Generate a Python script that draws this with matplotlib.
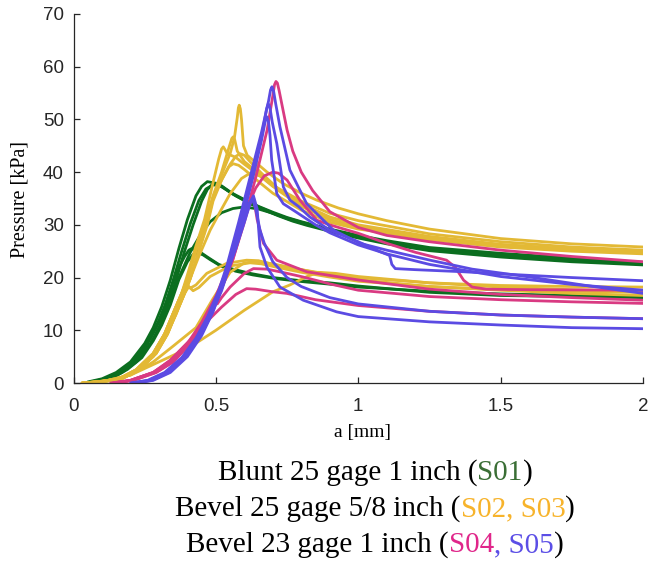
import matplotlib
matplotlib.use("Agg")
import matplotlib.pyplot as plt

W, H = 649, 561
DPI = 100

# ---------------- data ----------------
# S01 (blunt 25 gage 1 inch) - green
g1_x = [0.05, 0.10, 0.15, 0.20, 0.25, 0.28, 0.31, 0.34, 0.37, 0.40, 0.43, 0.45, 0.47, 0.50, 0.55, 0.60, 0.65, 0.70, 0.75, 0.80, 0.90, 1.00, 1.10, 1.25, 1.50, 1.75, 2.00]
g1_y = [0.2, 0.8, 2.0, 4.0, 7.5, 10.5, 14.5, 19.5, 25.5, 31.0, 35.5, 37.3, 38.2, 37.9, 36.2, 34.8, 33.5, 32.4, 31.4, 30.6, 29.2, 28.0, 27.0, 25.7, 24.6, 23.7, 22.9]
g2_x = [0.06, 0.11, 0.16, 0.21, 0.26, 0.29, 0.32, 0.35, 0.38, 0.41, 0.44, 0.465, 0.49, 0.52, 0.56, 0.61, 0.66, 0.71, 0.76, 0.81, 0.91, 1.00, 1.10, 1.25, 1.50, 1.75, 2.00]
g2_y = [0.2, 0.8, 2.0, 4.0, 7.5, 10.5, 14.5, 19.5, 25.0, 30.2, 34.6, 36.8, 37.6, 37.3, 35.8, 34.4, 33.2, 32.0, 31.0, 30.2, 28.8, 27.7, 26.6, 25.4, 24.2, 23.3, 22.6]
g3_x = [0.07, 0.12, 0.17, 0.22, 0.27, 0.30, 0.33, 0.36, 0.39, 0.42, 0.45, 0.47, 0.49, 0.52, 0.57, 0.62, 0.67, 0.72, 0.77, 0.82, 0.92, 1.00, 1.10, 1.25, 1.50, 1.75, 2.00]
g3_y = [0.2, 0.8, 2.0, 4.0, 7.5, 10.5, 14.5, 19.5, 25.0, 30.0, 34.5, 36.7, 37.8, 37.4, 35.5, 34.0, 32.8, 31.7, 30.7, 29.9, 28.5, 27.5, 26.4, 25.1, 23.9, 23.0, 22.4]
g4_x = [0.06, 0.12, 0.18, 0.24, 0.29, 0.33, 0.37, 0.41, 0.45, 0.48, 0.52, 0.56, 0.60, 0.65, 0.70, 0.75, 0.80, 0.90, 1.00, 1.25, 1.50, 1.75, 2.00]
g4_y = [0.2, 0.8, 2.5, 6.0, 10.5, 15.0, 20.0, 24.8, 28.5, 30.6, 32.3, 33.1, 33.4, 33.0, 32.2, 31.3, 30.5, 29.0, 27.8, 25.4, 24.3, 23.4, 22.6]
g5_x = [0.07, 0.12, 0.18, 0.23, 0.27, 0.30, 0.33, 0.36, 0.39, 0.405, 0.415, 0.43, 0.44, 0.47, 0.51, 0.56, 0.62, 0.70, 0.80, 0.90, 1.00, 1.25, 1.50, 1.75, 2.00]
g5_y = [0.2, 0.7, 2.8, 5.0, 8.5, 11.8, 15.8, 20.8, 24.0, 25.2, 25.5, 25.3, 25.0, 23.9, 22.5, 21.6, 20.8, 20.0, 19.4, 19.0, 18.4, 17.2, 16.6, 16.4, 16.2]
g6_x = [0.08, 0.13, 0.19, 0.24, 0.28, 0.31, 0.34, 0.37, 0.40, 0.42, 0.43, 0.445, 0.455, 0.48, 0.52, 0.57, 0.63, 0.71, 0.81, 0.91, 1.00, 1.25, 1.50, 1.75, 2.00]
g6_y = [0.2, 0.7, 2.6, 4.8, 8.0, 11.0, 14.8, 19.6, 23.0, 24.4, 24.6, 24.5, 24.3, 23.4, 22.1, 21.2, 20.5, 19.8, 19.2, 18.7, 18.2, 17.4, 16.9, 16.6, 16.4]

# S02, S03 (bevel 25 gage 5/8 inch) - yellow
y1_x = [0.03, 0.10, 0.16, 0.22, 0.28, 0.32, 0.35, 0.38, 0.40, 0.43, 0.46, 0.49, 0.52, 0.55, 0.565, 0.575, 0.579, 0.582, 0.586, 0.59, 0.597, 0.61, 0.632, 0.68, 0.737, 0.80, 0.854, 0.93, 1.00, 1.10, 1.25, 1.50, 1.75, 2.00]
y1_y = [0.0, 0.3, 0.8, 2.5, 5.6, 9.3, 13.2, 17.0, 19.8, 25.0, 30.0, 35.0, 39.5, 43.5, 46.5, 50.3, 52.2, 52.7, 52.0, 50.0, 45.0, 43.2, 42.2, 40.0, 37.8, 36.0, 34.7, 33.2, 32.1, 30.8, 29.2, 27.4, 26.4, 25.8]
y2_x = [0.03, 0.10, 0.16, 0.22, 0.28, 0.32, 0.35, 0.38, 0.40, 0.43, 0.46, 0.49, 0.52, 0.545, 0.556, 0.561, 0.566, 0.575, 0.60, 0.65, 0.70, 0.80, 0.90, 1.00, 1.25, 1.50, 1.75, 2.00]
y2_y = [0.0, 0.3, 0.8, 2.5, 5.6, 9.3, 13.2, 17.0, 19.8, 25.0, 30.0, 35.5, 40.0, 44.5, 46.4, 46.7, 46.2, 44.0, 42.0, 39.8, 37.5, 34.5, 32.2, 30.8, 28.3, 26.8, 25.8, 25.2]
y3_x = [0.03, 0.10, 0.16, 0.22, 0.28, 0.32, 0.35, 0.38, 0.40, 0.43, 0.46, 0.49, 0.51, 0.52, 0.526, 0.532, 0.54, 0.57, 0.60, 0.65, 0.70, 0.80, 0.90, 1.00, 1.25, 1.50, 1.75, 2.00]
y3_y = [0.0, 0.3, 0.8, 2.5, 5.6, 9.3, 13.2, 17.0, 20.5, 26.0, 31.0, 38.0, 42.5, 44.4, 44.8, 44.3, 43.5, 42.8, 41.5, 39.5, 37.3, 34.0, 31.5, 30.0, 27.8, 26.3, 25.4, 24.8]
y4_x = [0.04, 0.11, 0.17, 0.23, 0.29, 0.33, 0.36, 0.39, 0.41, 0.44, 0.47, 0.49, 0.52, 0.55, 0.57, 0.585, 0.60, 0.62, 0.66, 0.72, 0.80, 0.90, 1.00, 1.25, 1.50, 1.75, 2.00]
y4_y = [0.0, 0.3, 0.8, 2.5, 5.6, 9.3, 13.2, 17.0, 19.8, 25.0, 30.0, 34.5, 38.5, 41.5, 43.0, 43.5, 43.2, 42.0, 39.8, 36.8, 33.7, 31.0, 29.4, 27.2, 25.8, 25.0, 24.5]
y5_x = [0.04, 0.11, 0.17, 0.23, 0.29, 0.33, 0.36, 0.39, 0.41, 0.44, 0.47, 0.49, 0.52, 0.545, 0.561, 0.58, 0.60, 0.65, 0.70, 0.80, 0.90, 1.00, 1.25, 1.50, 1.75, 2.00]
y5_y = [0.0, 0.3, 0.8, 2.5, 5.6, 9.3, 13.2, 17.0, 19.8, 25.0, 30.5, 35.0, 38.5, 41.0, 41.6, 41.3, 40.5, 38.2, 36.0, 32.8, 30.5, 29.2, 27.3, 26.0, 25.2, 24.8]
y6_x = [0.03, 0.10, 0.16, 0.22, 0.28, 0.32, 0.36, 0.40, 0.44, 0.48, 0.52, 0.55, 0.59, 0.62, 0.66, 0.72, 0.80, 0.90, 1.00, 1.25, 1.50, 1.75, 2.00]
y6_y = [0.0, 0.3, 0.8, 2.3, 5.0, 8.5, 13.0, 18.5, 24.0, 29.0, 33.0, 35.9, 38.8, 39.8, 39.2, 36.5, 33.5, 31.0, 29.6, 27.5, 26.2, 25.4, 25.0]
y7_x = [0.03, 0.10, 0.16, 0.22, 0.28, 0.32, 0.35, 0.38, 0.395, 0.41, 0.43, 0.468, 0.538, 0.608, 0.65, 0.70, 0.80, 0.90, 1.00, 1.25, 1.50, 1.75, 2.00]
y7_y = [0.0, 0.3, 0.8, 2.5, 5.6, 9.3, 13.2, 17.0, 18.8, 18.0, 18.6, 20.8, 22.7, 23.3, 23.2, 22.5, 21.5, 20.6, 20.0, 19.0, 18.5, 18.3, 18.2]
y8_x = [0.04, 0.11, 0.17, 0.23, 0.29, 0.33, 0.36, 0.39, 0.405, 0.42, 0.44, 0.48, 0.55, 0.62, 0.66, 0.71, 0.80, 0.90, 1.00, 1.25, 1.50, 1.75, 2.00]
y8_y = [0.0, 0.3, 0.8, 2.5, 5.6, 9.3, 13.2, 17.0, 18.3, 17.5, 18.1, 20.2, 22.2, 22.8, 22.6, 22.0, 21.0, 20.1, 19.3, 18.3, 17.7, 17.4, 17.2]
y9_x = [0.05, 0.12, 0.20, 0.28, 0.35, 0.43, 0.49, 0.55, 0.60, 0.65, 0.70, 0.80, 0.90, 1.00, 1.25, 1.50, 1.75, 2.00]
y9_y = [0.0, 0.5, 1.5, 4.0, 7.0, 10.5, 16.0, 21.0, 22.8, 23.0, 22.6, 21.5, 20.4, 19.6, 18.3, 17.6, 17.0, 16.6]
y10_x = [0.05, 0.12, 0.20, 0.28, 0.34, 0.40, 0.50, 0.60, 0.70, 0.76, 0.82, 0.86, 0.92, 1.00, 1.25, 1.50, 1.75, 2.00]
y10_y = [0.0, 0.5, 1.5, 3.5, 5.0, 6.5, 10.0, 13.8, 17.3, 18.6, 20.2, 21.0, 20.8, 20.2, 19.0, 18.2, 17.7, 17.4]

# S04 (bevel 23 gage 1 inch) - pink
p1_x = [0.13, 0.20, 0.28, 0.34, 0.40, 0.45, 0.50, 0.55, 0.60, 0.64, 0.68, 0.70, 0.706, 0.711, 0.716, 0.722, 0.735, 0.75, 0.77, 0.80, 0.84, 0.90, 1.00, 1.10, 1.25, 1.50, 1.75, 2.00]
p1_y = [0.0, 0.5, 2.0, 4.0, 7.5, 11.5, 16.5, 23.0, 31.0, 39.0, 48.0, 54.5, 56.6, 57.2, 56.9, 55.5, 52.0, 48.0, 44.0, 40.0, 36.5, 32.5, 29.5, 28.0, 26.8, 25.2, 24.0, 23.0]
p2_x = [0.14, 0.21, 0.29, 0.35, 0.41, 0.46, 0.51, 0.56, 0.60, 0.62, 0.64, 0.67, 0.70, 0.72, 0.75, 0.795, 0.854, 0.90, 1.00, 1.10, 1.20, 1.31, 1.34, 1.37, 1.40, 1.45, 1.60, 2.00]
p2_y = [0.0, 0.5, 2.0, 4.0, 7.5, 11.5, 16.5, 23.5, 30.5, 34.5, 37.0, 39.3, 40.0, 39.8, 38.5, 34.7, 30.9, 30.0, 28.4, 26.5, 24.8, 23.3, 22.0, 19.5, 18.2, 17.8, 17.7, 17.6]
p5_x = [0.14, 0.21, 0.29, 0.35, 0.41, 0.46, 0.51, 0.56, 0.60, 0.62, 0.632, 0.645, 0.667, 0.714, 0.819, 1.006, 1.25, 1.50, 1.75, 2.00]
p5_y = [0.0, 0.5, 2.0, 4.0, 7.5, 11.5, 16.5, 23.5, 31.0, 34.0, 35.3, 31.0, 26.5, 23.3, 21.1, 19.5, 17.8, 16.8, 16.2, 15.7]
p3_x = [0.14, 0.20, 0.28, 0.34, 0.42, 0.47, 0.50, 0.505, 0.52, 0.55, 0.60, 0.632, 0.68, 0.75, 0.807, 0.90, 1.00, 1.25, 1.50, 1.75, 2.00]
p3_y = [0.0, 0.5, 2.0, 4.3, 8.7, 12.5, 15.4, 15.0, 16.2, 18.2, 20.8, 21.7, 21.6, 20.8, 20.1, 18.8, 17.6, 16.4, 15.8, 15.4, 15.1]
p4_x = [0.14, 0.20, 0.28, 0.34, 0.42, 0.465, 0.475, 0.52, 0.57, 0.608, 0.64, 0.70, 0.749, 0.85, 1.00, 1.25, 1.50, 1.75, 2.00]
p4_y = [0.0, 0.5, 2.0, 4.3, 8.7, 12.3, 12.0, 14.4, 16.8, 17.9, 17.8, 17.3, 17.0, 15.8, 14.7, 13.6, 12.9, 12.5, 12.2]

# S05 (bevel 23 gage 1 inch) - blue
b1_x = [0.20, 0.26, 0.32, 0.38, 0.43, 0.47, 0.51, 0.54, 0.58, 0.62, 0.66, 0.685, 0.692, 0.697, 0.703, 0.71, 0.725, 0.76, 0.819, 0.913, 1.006, 1.10, 1.252, 1.40, 1.603, 1.80, 2.00]
b1_y = [0.0, 0.5, 2.0, 4.8, 8.5, 12.5, 17.5, 22.5, 30.5, 39.0, 47.5, 53.5, 55.6, 56.2, 55.3, 53.0, 48.6, 40.4, 34.0, 29.0, 26.5, 25.2, 23.3, 21.6, 20.1, 18.5, 17.0]
b2_x = [0.205, 0.265, 0.325, 0.385, 0.435, 0.475, 0.515, 0.545, 0.585, 0.625, 0.66, 0.678, 0.684, 0.69, 0.698, 0.714, 0.737, 0.76, 0.79, 0.83, 0.90, 1.00, 1.077, 1.11, 1.118, 1.13, 1.20, 1.37, 1.50, 1.75, 2.00]
b2_y = [0.0, 0.5, 2.0, 4.8, 8.5, 12.5, 17.5, 22.5, 30.5, 39.0, 46.5, 52.0, 53.0, 52.2, 49.5, 45.4, 37.2, 34.7, 33.5, 31.5, 29.0, 26.8, 24.9, 24.2, 22.5, 21.7, 21.5, 21.1, 20.7, 20.0, 19.4]
b3_x = [0.21, 0.27, 0.33, 0.39, 0.44, 0.48, 0.52, 0.55, 0.59, 0.63, 0.66, 0.674, 0.679, 0.685, 0.69, 0.696, 0.714, 0.737, 0.78, 0.85, 0.90, 1.00, 1.10, 1.25, 1.50, 1.75, 2.00]
b3_y = [0.0, 0.5, 2.0, 4.8, 8.5, 12.5, 17.5, 22.5, 30.5, 39.0, 46.0, 49.8, 50.5, 49.5, 47.0, 42.3, 35.9, 34.0, 32.5, 30.0, 28.5, 26.2, 24.5, 22.5, 20.2, 18.7, 17.6]
b4_x = [0.22, 0.28, 0.34, 0.40, 0.45, 0.49, 0.53, 0.57, 0.60, 0.62, 0.632, 0.645, 0.649, 0.655, 0.679, 0.725, 0.807, 0.924, 1.00, 1.25, 1.50, 1.75, 2.00]
b4_y = [0.0, 0.5, 2.0, 5.0, 9.0, 13.5, 19.5, 25.5, 30.5, 34.0, 35.5, 33.0, 30.0, 25.8, 22.0, 18.2, 15.7, 13.5, 12.6, 11.6, 11.0, 10.5, 10.3]
b5_x = [0.215, 0.275, 0.335, 0.395, 0.445, 0.485, 0.525, 0.565, 0.595, 0.615, 0.628, 0.64, 0.655, 0.67, 0.70, 0.75, 0.80, 0.90, 1.00, 1.25, 1.50, 1.75, 2.00]
b5_y = [0.0, 0.5, 2.0, 5.0, 9.0, 13.5, 19.5, 25.5, 30.5, 34.0, 35.0, 33.0, 29.0, 26.5, 23.0, 20.0, 18.3, 16.2, 15.0, 13.6, 12.9, 12.5, 12.2]

green_curves = [(g1_x, g1_y), (g2_x, g2_y), (g3_x, g3_y), (g4_x, g4_y), (g5_x, g5_y), (g6_x, g6_y)]
yellow_curves = [(y1_x, y1_y), (y2_x, y2_y), (y3_x, y3_y), (y4_x, y4_y), (y5_x, y5_y),
                 (y6_x, y6_y), (y7_x, y7_y), (y8_x, y8_y), (y9_x, y9_y), (y10_x, y10_y)]
pink_curves = [(p1_x, p1_y), (p2_x, p2_y), (p5_x, p5_y), (p3_x, p3_y), (p4_x, p4_y)]
blue_curves = [(b1_x, b1_y), (b2_x, b2_y), (b3_x, b3_y), (b4_x, b4_y), (b5_x, b5_y)]

x_ticks = [0, 0.5, 1, 1.5, 2]
x_tick_labels = ["0", "0.5", "1", "1.5", "2"]
y_ticks = [0, 10, 20, 30, 40, 50, 60, 70]

legend_lines = [
    [("Blunt 25 gage 1 inch (", "black"), ("S01", "#3a6e35"), (")", "black")],
    [("Bevel 25 gage 5/8 inch (", "black"), ("S02, S03", "#f7b32b"), (")", "black")],
    [("Bevel 23 gage 1 inch (", "black"), ("S04", "#e0268a"), (", S05", "#5b4ee6"), (")", "black")],
]

# ---------------- styling ----------------
C_GREEN = "#0b6e1f"
C_YELLOW = "#e3b935"
C_PINK = "#d93a82"
C_BLUE = "#5b4be3"
LW = 2.0
SERIF = "Liberation Serif"
SANS = "Liberation Sans"

fig = plt.figure(figsize=(W / DPI, H / DPI), dpi=DPI)
ax = fig.add_axes([73.5 / W, (H - 383) / H, (643 - 73.5) / W, (383 - 14) / H])

for curves, col in [(green_curves, C_GREEN), (yellow_curves, C_YELLOW),
                    (pink_curves, C_PINK), (blue_curves, C_BLUE)]:
    for cx, cy in curves:
        ax.plot(cx, cy, color=col, lw=LW, solid_joinstyle="round", solid_capstyle="round")

ax.set_xlim(0, 2)
ax.set_ylim(0, 70)
ax.set_xticks(x_ticks)
ax.set_xticklabels(x_tick_labels)
ax.set_yticks(y_ticks)
for s in ["top", "right"]:
    ax.spines[s].set_visible(False)
for s in ["left", "bottom"]:
    ax.spines[s].set_color("#262626")
    ax.spines[s].set_linewidth(0.9)
ax.tick_params(axis="both", direction="in", length=4, width=0.9, color="#262626",
               labelsize=13.5, labelcolor="#262626")
ax.tick_params(axis="x", pad=11)
ax.tick_params(axis="y", pad=7)
for lab in ax.get_xticklabels() + ax.get_yticklabels():
    lab.set_fontfamily(SANS)

fig.text(362 / W, 1 - 433 / H, "a [mm]", family=SERIF, fontsize=14, ha="center", va="center")
fig.text(20 / W, 1 - 200 / H, "Pressure [kPa]", family=SERIF, fontsize=14.5, ha="center",
         va="center", rotation=90)

# multi-coloured caption lines, centred
renderer = fig.canvas.get_renderer()
CAP_SIZE = 21
centre_x = 375
baselines = [480, 516, 552]
for pieces, base in zip(legend_lines, baselines):
    texts = []
    widths = []
    for s, c in pieces:
        t = fig.text(0, 1 - base / H, s, family=SERIF, fontsize=CAP_SIZE, color=c,
                     ha="left", va="baseline")
        texts.append(t)
        widths.append(t.get_window_extent(renderer).width)
    total = sum(widths)
    x0 = centre_x - total / 2
    for t, w in zip(texts, widths):
        t.set_x(x0 / W)
        x0 += w

fig.savefig("out.png", dpi=DPI)
